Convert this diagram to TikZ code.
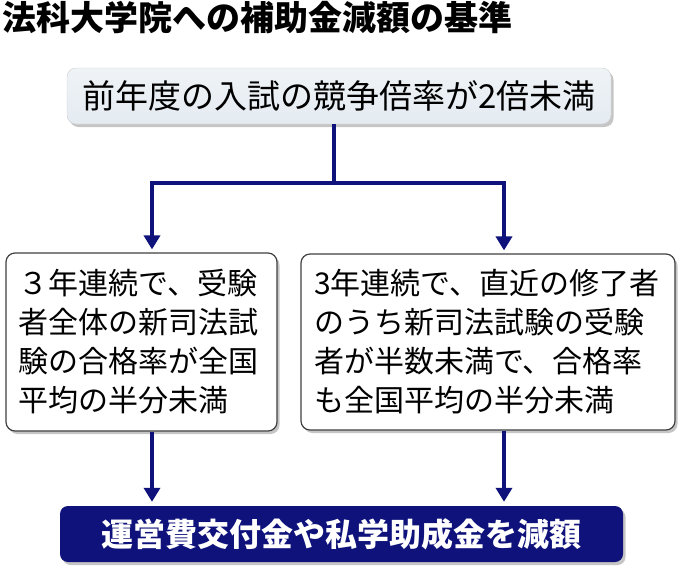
\documentclass[tikz,border=0pt]{standalone}
\usepackage{fontspec}
\setmainfont{Noto Sans CJK JP}
\usetikzlibrary{arrows.meta,shadows}
\definecolor{navy}{RGB}{14,18,122}
\definecolor{paleblue}{RGB}{228,235,241}

\begin{document}
\begin{tikzpicture}[x=1pt,y=-1pt,
    shade/.style={drop shadow={shadow xshift=2.5pt,shadow yshift=-3pt,fill=black!45}},
    critbox/.style={draw=black!75,line width=1.2pt,fill=white,rounded corners=9pt,shade,
      align=left,inner ysep=0pt,font=\fontsize{30}{39}\selectfont},
    flow/.style={line width=4pt,navy},
    flowarr/.style={flow,-{Triangle[width=16pt,length=14pt]}}]
  \useasboundingbox (0,0) rectangle (680,566);
  \node[anchor=west,inner sep=0pt,font=\fontsize{34}{34}\selectfont\bfseries] (title) at (2,18) {法科大学院への補助金減額の基準};
  \node[draw=black!20,top color=paleblue!60,bottom color=paleblue,rounded corners=9pt,shade,
        minimum width=544pt,minimum height=56pt,font=\fontsize{33}{33}\selectfont] (cond) at (339,96) {前年度の入試の競争倍率が2倍未満};
  \node[critbox,text width=245pt,inner xsep=13pt,minimum height=178pt] (crit1) at (141.5,342)
    {３年連続で、受験\\者全体の新司法試\\験の合格率が全国\\平均の半分未満};
  \node[critbox,text width=348pt,inner xsep=13pt,minimum height=176pt] (crit2) at (488,342)
    {3年連続で、直近の修了者\\のうち新司法試験の受験\\者が半数未満で、合格率\\も全国平均の半分未満};
  \node[fill=navy,text=white,rounded corners=8pt,shade,minimum width=563pt,minimum height=56pt,
        font=\fontsize{32}{32}\selectfont\bfseries] (cut) at (341.5,534) {運営費交付金や私学助成金を減額};
  \coordinate (split) at (334,183);
  \draw[flow] (cond.south -| split) -- (split);
  \draw[flowarr,shorten >=3pt] (split) -| ([xshift=10.5pt]crit1.north);
  \draw[flowarr,shorten >=3pt] (split) -| ([xshift=16pt]crit2.north);
  \draw[flowarr,shorten >=4pt] ([xshift=10.5pt]crit1.south) -- ([xshift=10.5pt]crit1.south |- cut.north);
  \draw[flowarr,shorten >=4pt] ([xshift=16pt]crit2.south) -- ([xshift=16pt]crit2.south |- cut.north);
\end{tikzpicture}
\end{document}
